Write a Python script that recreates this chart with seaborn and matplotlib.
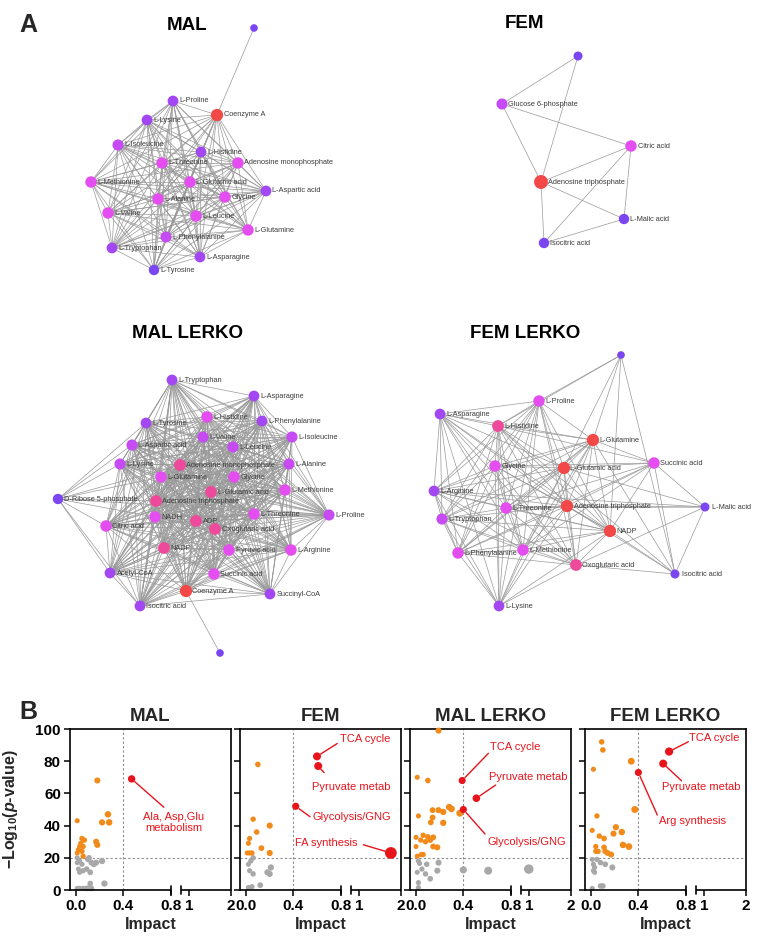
import numpy as np
import pandas as pd
import matplotlib
matplotlib.use("Agg")
import matplotlib.pyplot as plt
from matplotlib.collections import LineCollection
import seaborn as sns
from itertools import combinations

sns.set_theme(style="white")
plt.rcParams["font.family"] = ["Liberation Sans", "DejaVu Sans"]
plt.rcParams["mathtext.fontset"] = "custom"
plt.rcParams["mathtext.rm"] = "Liberation Sans:bold"
plt.rcParams["mathtext.it"] = "Liberation Sans:italic:bold"
plt.rcParams["mathtext.bf"] = "Liberation Sans:bold"

# ------------------------------------------------------------------ DATA (A)
MAL_NAMES = ["", "L-Proline", "Coenzyme A", "L-Lysine", "L-Isoleucine", "L-Histidine",
             "L-Threonine", "Adenosine monophosphate", "L-Methionine", "L-Glutamic acid",
             "L-Aspartic acid", "L-Alanine", "Glycine", "L-Valine", "L-Leucine",
             "L-Glutamine", "L-Phenylalanine", "L-Tryptophan", "L-Asparagine", "L-Tyrosine"]
MAL_X = [254, 173, 217, 147, 118, 201, 162, 238, 91, 190, 266, 158, 225, 108, 196, 248, 166, 112, 200, 154]
MAL_Y = [28, 101, 115, 120, 145, 152, 163, 163, 182, 182, 191, 199, 197, 213, 216, 230, 237, 248, 257, 270]
MAL_CAT = ["s", "p", "r", "p", "v", "p", "m", "m", "m", "m", "p", "m", "m", "m", "m", "m", "v", "p", "p", "b"]
MAL_EDGES = [("", "Coenzyme A")] + list(combinations(MAL_NAMES[1:], 2))

FEM_NAMES = ["", "Glucose 6-phosphate", "Citric acid", "Adenosine triphosphate", "L-Malic acid", "Isocitric acid"]
FEM_X = [578, 502, 631, 541, 624, 544]
FEM_Y = [56, 104, 146, 182, 219, 243]
FEM_CAT = ["s2", "v", "m", "R", "b", "b"]
FEM_EDGES = [("", "Glucose 6-phosphate"), ("", "Adenosine triphosphate"),
             ("Glucose 6-phosphate", "Adenosine triphosphate"), ("Glucose 6-phosphate", "Citric acid"),
             ("Citric acid", "Adenosine triphosphate"), ("Citric acid", "Isocitric acid"),
             ("Citric acid", "L-Malic acid"), ("Adenosine triphosphate", "L-Malic acid"),
             ("Adenosine triphosphate", "Isocitric acid"), ("L-Malic acid", "Isocitric acid")]

ML_NAMES = ["L-Tryptophan", "L-Asparagine", "L-Histidine", "L-Tyrosine", "L-Phenylalanine", "L-Valine",
            "L-Isoleucine", "L-Aspartic acid", "L-Leucine", "L-Lysine", "Adenosine monophosphate",
            "L-Alanine", "L-Glutamine", "Glycine", "D-Ribose 5-phosphate", "L-Glutamic acid",
            "Adenosine triphosphate", "L-Methionine", "L-Proline", "NADH", "ADP", "L-Threonine",
            "Citric acid", "Oxoglutaric acid", "NADP", "Pyruvic acid", "L-Arginine", "Acetyl-CoA",
            "Succinic acid", "Coenzyme A", "Succinyl-CoA", "Isocitric acid", ""]
ML_X = [172, 254, 207, 146, 262, 203, 292, 132, 233, 120, 180, 289, 161, 234, 58, 211, 156, 285, 329,
        155, 196, 254, 106, 215, 164, 229, 291, 110, 214, 186, 270, 140, 220]
ML_Y = [380, 396, 417, 423, 421, 437, 437, 445, 447, 464, 465, 464, 477, 477, 499, 492, 501, 490, 515,
        517, 521, 514, 526, 529, 548, 550, 550, 573, 574, 591, 594, 606, 653]
ML_CAT = ["p", "p", "m", "p", "p", "v", "v", "v", "v", "v", "k", "v", "m", "m", "b", "k", "k", "m", "v",
          "m", "k", "m", "m", "k", "k", "m", "m", "p", "m", "r", "p", "p", "s"]
ML_CORE = [n for n in ML_NAMES if n not in ("", "D-Ribose 5-phosphate")]
ML_EDGES = ([("", "Coenzyme A")] + list(combinations(ML_CORE, 2)) +
            [("D-Ribose 5-phosphate", n) for n in ["L-Lysine", "L-Aspartic acid", "L-Tyrosine", "Citric acid",
                                                   "Acetyl-CoA", "Isocitric acid", "Adenosine triphosphate",
                                                   "L-Glutamine", "NADH", "Adenosine monophosphate", "L-Proline"]])

FL_NAMES = ["", "L-Proline", "L-Asparagine", "L-Histidine", "L-Glutamine", "Succinic acid", "Glycine",
            "L-Glutamic acid", "L-Arginine", "Adenosine triphosphate", "L-Malic acid", "L-Threonine",
            "L-Tryptophan", "NADP", "L-Phenylalanine", "L-Methionine", "Oxoglutaric acid",
            "Isocitric acid", "L-Lysine"]
FL_X = [621, 539, 440, 498, 593, 654, 495, 564, 434, 567, 705, 506, 442, 610, 458, 523, 576, 675, 499]
FL_Y = [355, 401, 414, 426, 440, 463, 466, 468, 491, 506, 507, 508, 519, 531, 553, 550, 565, 574, 606]
FL_CAT = ["s", "m", "p", "k", "r", "m", "m", "r", "p", "r", "s2", "m", "v", "r", "m", "m", "k", "s2", "p"]
FL_CORE = ["L-Proline", "L-Asparagine", "L-Histidine", "L-Glutamine", "Glycine", "L-Glutamic acid",
           "L-Arginine", "Adenosine triphosphate", "L-Threonine", "L-Tryptophan", "NADP",
           "L-Phenylalanine", "L-Methionine", "Oxoglutaric acid", "L-Lysine"]
FL_EDGES = (list(combinations(FL_CORE, 2)) +
            [("", n) for n in ["L-Proline", "L-Glutamine", "L-Glutamic acid", "NADP", "Isocitric acid", "L-Histidine"]] +
            [("Succinic acid", n) for n in ["L-Glutamine", "L-Glutamic acid", "Glycine", "Adenosine triphosphate",
                                            "NADP", "L-Methionine", "L-Threonine", "L-Phenylalanine",
                                            "L-Malic acid", "Isocitric acid", "L-Histidine"]] +
            [("L-Malic acid", n) for n in ["Isocitric acid", "Adenosine triphosphate", "L-Glutamic acid",
                                           "L-Threonine", "Oxoglutaric acid", "L-Arginine"]] +
            [("Isocitric acid", n) for n in ["NADP", "Oxoglutaric acid", "L-Glutamine", "L-Histidine",
                                             "Adenosine triphosphate"]])

# ------------------------------------------------------------------ DATA (B)
MAL_IMPACT = [0.47,
              0.18, 0.01, 0.27, 0.22, 0.28, 0.17, 0.18, 0.05, 0.07, 0.03, 0.06, 0.02, 0.05, 0.01, 0.06, 0.04,
              0.01, 0.03, 0.01, 0.05, 0.02, 0.06, 0.03, 0.10, 0.11, 0.13, 0.15, 0.17, 0.22, 0.12, 0.09,
              0.01, 0.03, 0.06, 0.09, 0.10, 0.13, 0.12, 0.24]
MAL_LOGP = [69,
            68, 43, 47, 42, 42, 30, 28, 32, 31, 27, 27, 25, 24, 23, 21, 29,
            20, 18, 17, 16, 13, 12, 11, 19, 20, 17, 16, 17, 18, 11, 13,
            1, 1, 1, 1, 1, 1, 4, 4]
MAL_CLASS = ["r"] + ["o"] * 16 + ["g"] * 23
MAL_LABELS = ["Ala, Asp,Glu\nmetabolism"]

FEM_IMPACT = [0.60, 0.61, 0.42, 1.76,
              0.10, 0.06, 0.09, 0.20, 0.03, 0.02, 0.13, 0.01, 0.03, 0.05, 0.20,
              0.06, 0.04, 0.02, 0.03, 0.06, 0.18, 0.20, 0.21, 0.02, 0.05, 0.12]
FEM_LOGP = [83, 77, 52, 23,
            78, 44, 36, 40, 32, 29, 26, 23, 23, 23, 23,
            20, 18, 16, 12, 10, 11, 10, 14, 1.5, 2, 3]
FEM_CLASS = ["r"] * 4 + ["o"] * 11 + ["g"] * 11
FEM_LABELS = ["TCA cycle", "Pyruvate metab", "Glycolysis/GNG", "FA synthesis"]

MLK_IMPACT = [0.39, 0.51, 0.40,
              0.19, 0.01, 0.10, 0.28, 0.30, 0.37, 0.14, 0.19, 0.23, 0.14, 0.02, 0.125, 0.23, 0.06, 0.10,
              0.145, 0.0, 0.04, 0.12, 0.08, 0.145, 0.18, 0.0, 0.06, 0.045, 0.01,
              0.02, 0.03, 0.09, 0.19, 0.05, 0.18, 0.01, 0.08, 0.12, 0.02, 0.02, 0.40, 0.61, 1.0]
MLK_LOGP = [68, 57, 50,
            99, 70, 68, 51.5, 50.4, 47.7, 49.6, 49.6, 48.5, 45, 46, 42, 41.7, 34, 33,
            32.7, 32.7, 31, 31, 30, 27, 26.5, 27, 22, 22, 21,
            18, 16.5, 16, 17, 13, 12, 11, 10, 7, 4.6, 1.5, 12.5, 12, 13]
MLK_CLASS = ["r"] * 3 + ["o"] * 26 + ["g"] * 14
MLK_LABELS = ["TCA cycle", "Pyruvate metab", "Glycolysis/GNG"]

FLK_IMPACT = [0.66, 0.61, 0.40,
              0.09, 0.10, 0.34, 0.02, 0.37, 0.05, 0.01, 0.21, 0.19, 0.26, 0.07, 0.11, 0.27, 0.32, 0.04,
              0.11, 0.04, 0.06, 0.12, 0.14, 0.17,
              0.01, 0.05, 0.08, 0.12, 0.18, 0.02, 0.03, 0.02, 0.03, 0.01, 0.08, 0.10]
FLK_LOGP = [86, 78.5, 73,
            92, 87, 80, 75, 50, 46, 37, 39, 35, 36, 33.5, 32, 28, 27, 27,
            26.5, 24, 24, 24, 23, 22,
            19, 19, 17, 16, 14, 16, 14, 12, 11, 1, 2.5, 2.5]
FLK_CLASS = ["r"] * 3 + ["o"] * 21 + ["g"] * 12
FLK_LABELS = ["TCA cycle", "Pyruvate metab", "Arg synthesis"]

PANEL_TITLES = ["MAL", "FEM", "MAL LERKO", "FEM LERKO"]
X_TICKS = [0, 0.4, 0.8, 1, 2]
X_TICKLABELS = ["0.0", "0.4", "0.8", "1", "2"]
Y_TICKS = [0, 20, 40, 60, 80, 100]

# ------------------------------------------------------------------ STYLES / LAYOUT
NODE_COLORS = {"s": "#7B45F2", "s2": "#7B45F2", "b": "#7B45F2", "p": "#A347F2", "v": "#C64BF2",
               "m": "#E44EF0", "k": "#EE4A9C", "r": "#F24848", "R": "#F24848"}
NODE_SIZES = {"s": 30, "s2": 42, "b": 56, "p": 60, "v": 64, "m": 68, "k": 72, "r": 78, "R": 100}
CLS_COLORS = {"g": "#A8A8A8", "o": "#F28A1A", "r": "#E8141C"}
CLS_RANK = {"g": 0, "o": 1, "r": 2}
RED = "#E8141C"

# label positions (axes fraction): text centre and line end
ANN_LAYOUT = [
    [((0.644, 0.418), (0.583, 0.514))],
    [((0.776, 0.938), (0.604, 0.910)), ((0.688, 0.642), (0.522, 0.729)),
     ((0.692, 0.453), (0.435, 0.455)), ((0.538, 0.290), (0.766, 0.281))],
    [((0.652, 0.886), (0.487, 0.849)), ((0.735, 0.700), (0.532, 0.652)),
     ((0.725, 0.296), (0.466, 0.348))],
    [((0.800, 0.942), (0.642, 0.921)), ((0.725, 0.642), (0.600, 0.678)),
     ((0.669, 0.429), (0.449, 0.466))],
]

W, H = 764, 946
fig = plt.figure(figsize=(W / 100, H / 100), dpi=100)
fig.patch.set_facecolor("white")

# ------------------------------------------------------------------ A: networks
axn = fig.add_axes([0, 1 - 680 / H, 1, 680 / H])


def draw_network(ax, names, xs, ys, cats, edges):
    idx = {n: i for i, n in enumerate(names)}
    segs = [[(xs[idx[a]], ys[idx[a]]), (xs[idx[b]], ys[idx[b]])] for a, b in edges]
    ax.add_collection(LineCollection(segs, colors="#999999", linewidths=0.5, zorder=1))
    df = pd.DataFrame({"x": xs, "y": ys, "cat": cats})
    sns.scatterplot(data=df, x="x", y="y", hue="cat", size="cat", palette=NODE_COLORS,
                    sizes=NODE_SIZES, legend=False, ax=ax, linewidth=0, zorder=3)
    for n, x, y in zip(names, xs, ys):
        if n:
            ax.text(x + 6.5, y, n, fontsize=5.3, color="#3c3c3c", ha="left", va="center", zorder=2)


draw_network(axn, MAL_NAMES, MAL_X, MAL_Y, MAL_CAT, MAL_EDGES)
draw_network(axn, FEM_NAMES, FEM_X, FEM_Y, FEM_CAT, FEM_EDGES)
draw_network(axn, ML_NAMES, ML_X, ML_Y, ML_CAT, ML_EDGES)
draw_network(axn, FL_NAMES, FL_X, FL_Y, FL_CAT, FL_EDGES)

for t, (tx, ty) in zip(PANEL_TITLES, [(187, 25), (525, 24), (187, 333), (525, 333)]):
    axn.text(tx, ty, t, fontsize=13.5, fontweight="bold", ha="center", va="center", color="black")
axn.set_xlim(0, W)
axn.set_ylim(680, 0)
axn.axis("off")

fig.text(28 / W, 1 - 25 / H, "A", fontsize=18, fontweight="bold", ha="center", va="center")
fig.text(28 / W, 1 - 712 / H, "B", fontsize=18, fontweight="bold", ha="center", va="center")


# ------------------------------------------------------------------ B: broken-axis scatter panels
def fwd(x):
    x = np.asarray(x, dtype=float)
    return np.where(x <= 0.8, x, np.where(x <= 1.0, 0.8 + (x - 0.8) * 0.765, 0.953 + (x - 1.0) * 0.357))


def inv(u):
    u = np.asarray(u, dtype=float)
    return np.where(u <= 0.8, u, np.where(u <= 0.953, 0.8 + (u - 0.8) / 0.765, 1.0 + (u - 0.953) / 0.357))


panels = [(MAL_IMPACT, MAL_LOGP, MAL_CLASS, MAL_LABELS),
          (FEM_IMPACT, FEM_LOGP, FEM_CLASS, FEM_LABELS),
          (MLK_IMPACT, MLK_LOGP, MLK_CLASS, MLK_LABELS),
          (FLK_IMPACT, FLK_LOGP, FLK_CLASS, FLK_LABELS)]
lefts = [70, 240, 410, 585]
XMIN = -0.051

for i, ((imp, lp, cls, labels), left) in enumerate(zip(panels, lefts)):
    ax = fig.add_axes([left / W, 56 / H, 161 / W, 161 / H])
    ax.set_facecolor("white")
    ax.set_xscale("function", functions=(fwd, inv))
    df = pd.DataFrame({"impact": imp, "logp": lp, "cls": cls})
    df["rank"] = df["cls"].map(CLS_RANK)
    df = df.sort_values("rank", kind="stable")
    ax.axvline(0.4, color="#8a8a8a", lw=0.8, ls=(0, (2, 2)), zorder=1)
    ax.axhline(20, color="#8a8a8a", lw=0.8, ls=(0, (2, 2)), zorder=1)
    sns.scatterplot(data=df, x="impact", y="logp", hue="cls", palette=CLS_COLORS, size="impact",
                    sizes=(13, 80), size_norm=(0, 2), legend=False, linewidth=0, ax=ax,
                    clip_on=False, zorder=3)
    ax.set_xlim(XMIN, 2)
    ax.set_ylim(0, 100)
    for s in ["left", "right", "top"]:
        ax.spines[s].set_visible(True)
        ax.spines[s].set_color("black")
        ax.spines[s].set_linewidth(1.2)
    ax.spines["bottom"].set_visible(False)
    tr = ax.get_xaxis_transform()
    for xa, xb in [(XMIN, 0.8), (0.911, 2)]:
        ax.plot([xa, xb], [0, 0], color="black", lw=1.2, transform=tr, clip_on=False, zorder=4,
                solid_capstyle="butt")
    for xb in [0.8, 0.911]:
        ax.plot([xb, xb], [-0.025, 0.025], color="black", lw=1.2, transform=tr, clip_on=False, zorder=4)
    ax.set_xticks(X_TICKS)
    ax.set_xticklabels(X_TICKLABELS, fontsize=11, fontweight="bold")
    ax.set_yticks(Y_TICKS)
    ax.set_yticklabels([str(v) for v in Y_TICKS], fontsize=11, fontweight="bold")
    ax.minorticks_off()
    ax.tick_params(axis="both", which="both", direction="out", length=4, width=1.1, color="black",
                   bottom=True, left=True, pad=2.5, labelcolor="black")
    if i > 0:
        ax.tick_params(axis="y", labelleft=False)
        ax.set_ylabel("")
    else:
        ax.set_ylabel("\u2212Log$_{\\rm 10}$($\\it{p}$-value)", fontsize=11.5, fontweight="bold")
        ax.yaxis.set_label_coords(-0.31, 0.5)
    ax.set_xlabel("Impact", fontsize=11.5, fontweight="bold", labelpad=3)
    ax.set_title(PANEL_TITLES[i], fontsize=13.5, fontweight="bold", pad=6)
    red_pts = list(zip([v for v, c in zip(imp, cls) if c == "r"], [v for v, c in zip(lp, cls) if c == "r"]))
    for (px, py), lab, ((tx, ty), (lx, ly)) in zip(red_pts, labels, ANN_LAYOUT[i]):
        ax.annotate("", xy=(px, py), xycoords="data", xytext=(lx, ly), textcoords="axes fraction",
                    arrowprops=dict(arrowstyle="-", color=RED, lw=1.0, shrinkA=0, shrinkB=3))
        ax.text(tx, ty, lab, transform=ax.transAxes, ha="center", va="center", color=RED,
                fontsize=8, linespacing=1.15)

fig.savefig("out.png", dpi=100, facecolor="white")
